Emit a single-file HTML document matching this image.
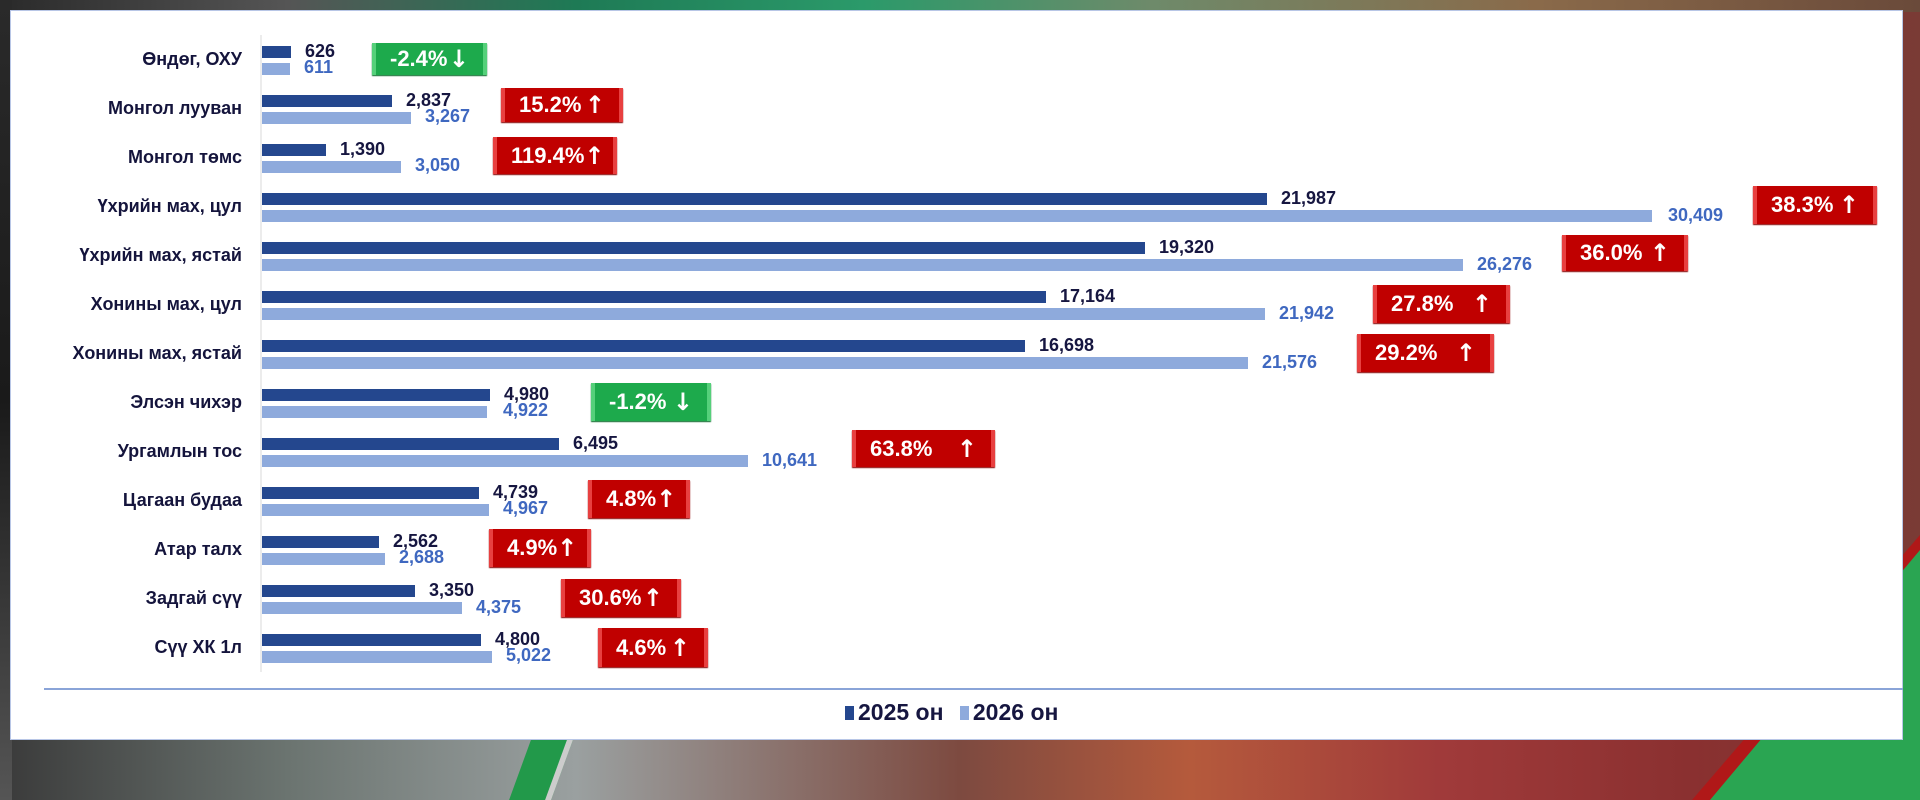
<!DOCTYPE html>
<html><head><meta charset="utf-8">
<style>
html,body{margin:0;padding:0;width:1920px;height:800px;overflow:hidden;}
body{position:relative;font-family:"Liberation Sans",Arial,sans-serif;
background:linear-gradient(90deg,#3a3a3a 0%,#6b7470 15%,#9aa0a0 30%,#7d4a40 50%,#b55a3c 62%,#a03a3a 75%,#8a3030 88%,#7a3b35 100%);}
.top{position:absolute;left:0;top:0;width:1920px;height:12px;background:linear-gradient(90deg,#2a2a2a 0%,#555 15%,#1e7a55 30%,#2b9a6a 45%,#6e8a6a 60%,#8a6a4a 80%,#6a4a3a 100%);}
.left{position:absolute;left:0;top:0;width:12px;height:800px;background:linear-gradient(180deg,#2a2a2a,#1a1a1a 50%,#555 100%);}
.panel{position:absolute;left:10px;top:10px;width:1893px;height:730px;background:#fff;border:1px solid #b8c6e6;box-sizing:border-box;}
.gstripe{position:absolute;left:520px;top:740px;width:36px;height:60px;background:#22994a;border-right:6px solid #ccc;transform:skewX(-20deg);}
.tri{position:absolute;left:0;top:0;width:1920px;height:800px;}
.cat{position:absolute;right:1678px;font-weight:bold;font-size:18px;color:#14143c;white-space:nowrap;line-height:20px;}
.bd,.bl{position:absolute;left:262px;}
.bd{background:#24478e;height:12px;}
.bl{background:#8eaadc;height:12px;}
.vd,.vl{position:absolute;font-weight:bold;font-size:18px;line-height:20px;white-space:nowrap;}
.vd{color:#161640;}
.vl{color:#3f68c0;}
.pb{position:absolute;box-sizing:border-box;display:flex;align-items:center;justify-content:space-between;padding:0 14px 0 14px;color:#fff;font-weight:bold;font-size:22px;border-left:4px solid #e84040;border-right:4px solid #e84040;background:#c00000;box-shadow:0 1px 1px #800;}
.pb.g{background:#1daa4c;border-color:#55d07a;box-shadow:0 1px 1px #0a6a2a;}
.pb span.a{font-family:"DejaVu Sans",sans-serif;font-weight:bold;font-size:24px;}
</style></head><body>
<div class="top"></div><div class="left"></div>
<div class="gstripe"></div>
<svg class="tri" viewBox="0 0 1920 800"><polygon points="1920,535 1920,800 1692,800" fill="#b01818"/><polygon points="1920,550 1920,800 1710,800" fill="#2aa552"/></svg>
<div class="panel"></div>
<svg class="tri" viewBox="0 0 1920 800"><line x1="261" y1="35" x2="261" y2="672" stroke="#d8d8d8" stroke-width="1"/><line x1="44" y1="689" x2="1903" y2="689" stroke="#8aa4d8" stroke-width="2"/></svg>

<div class="cat" style="top:49px">Өндөг, ОХУ</div>
<div class="bd" style="top:46px;width:29px"></div><div class="bl" style="top:63px;width:28px"></div>
<div class="vd" style="left:305px;top:41px">626</div><div class="vl" style="left:304px;top:57px">611</div>

<div class="cat" style="top:98px">Монгол лууван</div>
<div class="bd" style="top:95px;width:130px"></div><div class="bl" style="top:112px;width:149px"></div>
<div class="vd" style="left:406px;top:90px">2,837</div><div class="vl" style="left:425px;top:106px">3,267</div>

<div class="cat" style="top:147px">Монгол төмс</div>
<div class="bd" style="top:144px;width:64px"></div><div class="bl" style="top:161px;width:139px"></div>
<div class="vd" style="left:340px;top:139px">1,390</div><div class="vl" style="left:415px;top:155px">3,050</div>

<div class="cat" style="top:196px">Үхрийн мах, цул</div>
<div class="bd" style="top:193px;width:1005px"></div><div class="bl" style="top:210px;width:1390px"></div>
<div class="vd" style="left:1281px;top:188px">21,987</div><div class="vl" style="left:1668px;top:205px">30,409</div>

<div class="cat" style="top:245px">Үхрийн мах, ястай</div>
<div class="bd" style="top:242px;width:883px"></div><div class="bl" style="top:259px;width:1201px"></div>
<div class="vd" style="left:1159px;top:237px">19,320</div><div class="vl" style="left:1477px;top:254px">26,276</div>

<div class="cat" style="top:294px">Хонины мах, цул</div>
<div class="bd" style="top:291px;width:784px"></div><div class="bl" style="top:308px;width:1003px"></div>
<div class="vd" style="left:1060px;top:286px">17,164</div><div class="vl" style="left:1279px;top:303px">21,942</div>

<div class="cat" style="top:343px">Хонины мах, ястай</div>
<div class="bd" style="top:340px;width:763px"></div><div class="bl" style="top:357px;width:986px"></div>
<div class="vd" style="left:1039px;top:335px">16,698</div><div class="vl" style="left:1262px;top:352px">21,576</div>

<div class="cat" style="top:392px">Элсэн чихэр</div>
<div class="bd" style="top:389px;width:228px"></div><div class="bl" style="top:406px;width:225px"></div>
<div class="vd" style="left:504px;top:384px">4,980</div><div class="vl" style="left:503px;top:400px">4,922</div>

<div class="cat" style="top:441px">Ургамлын тос</div>
<div class="bd" style="top:438px;width:297px"></div><div class="bl" style="top:455px;width:486px"></div>
<div class="vd" style="left:573px;top:433px">6,495</div><div class="vl" style="left:762px;top:450px">10,641</div>

<div class="cat" style="top:490px">Цагаан будаа</div>
<div class="bd" style="top:487px;width:217px"></div><div class="bl" style="top:504px;width:227px"></div>
<div class="vd" style="left:493px;top:482px">4,739</div><div class="vl" style="left:503px;top:498px">4,967</div>

<div class="cat" style="top:539px">Атар талх</div>
<div class="bd" style="top:536px;width:117px"></div><div class="bl" style="top:553px;width:123px"></div>
<div class="vd" style="left:393px;top:531px">2,562</div><div class="vl" style="left:399px;top:547px">2,688</div>

<div class="cat" style="top:588px">Задгай сүү</div>
<div class="bd" style="top:585px;width:153px"></div><div class="bl" style="top:602px;width:200px"></div>
<div class="vd" style="left:429px;top:580px">3,350</div><div class="vl" style="left:476px;top:597px">4,375</div>

<div class="cat" style="top:637px">Сүү ХК 1л</div>
<div class="bd" style="top:634px;width:219px"></div><div class="bl" style="top:651px;width:230px"></div>
<div class="vd" style="left:495px;top:629px">4,800</div><div class="vl" style="left:506px;top:645px">5,022</div>

<div class="pb g" style="left:372px;top:43px;width:115px;height:32px"><span>-2.4%</span><span class="a">↓</span></div>
<div class="pb" style="left:501px;top:88px;width:122px;height:34px"><span>15.2%</span><span class="a">↑</span></div>
<div class="pb" style="left:493px;top:137px;width:124px;height:37px"><span>119.4%</span><span class="a">↑</span></div>
<div class="pb" style="left:1753px;top:186px;width:124px;height:38px"><span>38.3%</span><span class="a">↑</span></div>
<div class="pb" style="left:1562px;top:235px;width:126px;height:36px"><span>36.0%</span><span class="a">↑</span></div>
<div class="pb" style="left:1373px;top:285px;width:137px;height:38px"><span>27.8%</span><span class="a">↑</span></div>
<div class="pb" style="left:1357px;top:334px;width:137px;height:38px"><span>29.2%</span><span class="a">↑</span></div>
<div class="pb g" style="left:591px;top:383px;width:120px;height:38px"><span>-1.2%</span><span class="a">↓</span></div>
<div class="pb" style="left:852px;top:430px;width:143px;height:37px"><span>63.8%</span><span class="a">↑</span></div>
<div class="pb" style="left:588px;top:480px;width:102px;height:38px"><span>4.8%</span><span class="a">↑</span></div>
<div class="pb" style="left:489px;top:529px;width:102px;height:38px"><span>4.9%</span><span class="a">↑</span></div>
<div class="pb" style="left:561px;top:579px;width:120px;height:38px"><span>30.6%</span><span class="a">↑</span></div>
<div class="pb" style="left:598px;top:628px;width:110px;height:39px"><span>4.6%</span><span class="a">↑</span></div>

<div style="position:absolute;left:845px;top:699px;font-weight:bold;font-size:23px;color:#161640;white-space:nowrap;line-height:26px;">
<span style="display:inline-block;width:9px;height:14px;background:#24478e;margin-right:4px"></span>2025 он
<span style="display:inline-block;width:9px;height:14px;background:#8eaadc;margin:0 4px 0 10px"></span>2026 он</div>
</body></html>
